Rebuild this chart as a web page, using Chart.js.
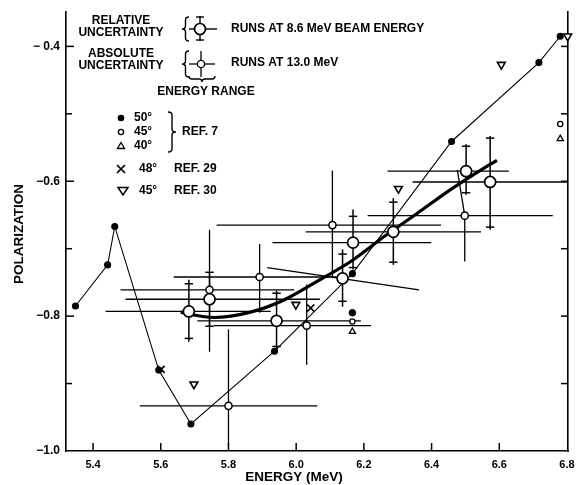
<!DOCTYPE html>
<html><head><meta charset="utf-8">
<script src="https://cdn.jsdelivr.net/npm/chart.js@4/dist/chart.umd.min.js"></script>
<style>html,body{margin:0;padding:0;background:#fff;}#wrap{width:577px;height:485px;}</style>
</head><body><div id="wrap"><canvas id="c" width="577" height="485"></canvas></div>
<script>
// ---- axis ticks ----
const X_TICKS = [5.4, 5.6, 5.8, 6.0, 6.2, 6.4, 6.6, 6.8];
const X_TICK_LABELS = ['5.4', '5.6', '5.8', '6.0', '6.2', '6.4', '6.6', '6.8'];
const Y_TICKS = [-1.0, -0.8, -0.6, -0.4];
const Y_TICK_LABELS = ['\u22121.0', '\u22120.8', '\u22120.6', '\u2212 0.4'];
const Y_MINOR = [-0.9, -0.7, -0.5];

// ---- runs at 8.6 MeV beam energy (large circles) ----
const BIG_E      = [5.683, 5.744, 5.942, 6.137, 6.168, 6.287, 6.502, 6.573];
const BIG_P      = [-0.793, -0.775, -0.807, -0.744, -0.691, -0.675, -0.585, -0.601];
const BIG_ELO    = [5.437, 5.496, 5.708, 5.914, 5.930, 6.028, 6.270, 6.344];
const BIG_EHI    = [5.925, 6.070, 6.191, 6.363, 6.399, 6.546, 6.628, 6.800];
const BIG_PLEFT  = [-0.793, -0.775, -0.807, -0.728, -0.691, -0.675, -0.585, -0.601];
const BIG_PRIGHT = [-0.793, -0.775, -0.807, -0.761, -0.691, -0.675, -0.585, -0.601];
const BIG_VLO    = [-0.838, -0.815, -0.850, -0.786, -0.731, -0.724, -0.620, -0.672];
const BIG_VHI    = [-0.746, -0.735, -0.762, -0.701, -0.642, -0.625, -0.545, -0.533];
const BIG_RLO    = [-0.833, -0.815, -0.845, -0.778, -0.728, -0.720, -0.617, -0.668];
const BIG_RHI    = [-0.752, -0.735, -0.766, -0.708, -0.652, -0.631, -0.548, -0.536];

// ---- runs at 13.0 MeV (small circles) ----
const SMALL_E     = [5.744, 5.800, 5.892, 6.031, 6.107, 6.498];
const SMALL_P     = [-0.761, -0.933, -0.742, -0.814, -0.665, -0.651];
const SMALL_ELO   = [5.481, 5.538, 5.638, 5.757, 5.765, 6.211];
const SMALL_EHI   = [5.994, 6.063, 6.120, 6.221, 6.428, 6.758];
const SMALL_VLO   = [-0.853, -0.993, -0.795, -0.872, -0.741, -0.719];
const SMALL_VHI   = [-0.672, -0.820, -0.693, -0.753, -0.584, -0.583];
const SMALL_VTOPE = [5.744, 5.800, 5.892, 6.031, 6.107, 6.476];

// ---- fitted curve (thick) ----
const CURVE_E = [5.659, 5.683, 5.757, 5.865, 5.964, 6.063, 6.161, 6.260, 6.359, 6.457, 6.556, 6.593];
const CURVE_P = [-0.794, -0.797, -0.802, -0.794, -0.776, -0.748, -0.719, -0.682, -0.647, -0.612, -0.580, -0.569];

// ---- connected filled points (thin line) ----
const LINE_E = [5.348, 5.443, 5.464, 5.594, 5.689, 5.936, 6.166, 6.459, 6.717, 6.780];
const LINE_P = [-0.785, -0.724, -0.667, -0.880, -0.960, -0.852, -0.737, -0.541, -0.424, -0.385];

// ---- REF. 7 isolated points ----
const R7_50_E = [6.166];          const R7_50_P = [-0.795];
const R7_45_E = [6.166, 6.780];   const R7_45_P = [-0.808, -0.515];
const R7_40_E = [6.166, 6.780];   const R7_40_P = [-0.823, -0.537];
// ---- REF. 29 (48 deg) ----
const R29_E = [5.601, 6.043];     const R29_P = [-0.879, -0.788];
// ---- REF. 30 (45 deg) ----
const R30_E = [5.698, 5.999, 6.302, 6.606, 6.802];
const R30_P = [-0.901, -0.783, -0.611, -0.427, -0.385];

const pts = (E, P) => E.map((e, i) => ({x: e, y: P[i]}));
const K = '#000';
const datasets = [];

datasets.push({data: pts(BIG_E, BIG_P), pointStyle: 'circle', pointRadius: 5.5, pointBackgroundColor: '#fff', pointBorderColor: K, pointBorderWidth: 1.7, order: 0, clip: false});
datasets.push({data: pts(SMALL_E, SMALL_P), pointStyle: 'circle', pointRadius: 3.6, pointBackgroundColor: '#fff', pointBorderColor: K, pointBorderWidth: 1.5, order: 0, clip: false});
datasets.push({data: pts(R7_45_E, R7_45_P), pointStyle: 'circle', pointRadius: 2.6, pointBackgroundColor: '#fff', pointBorderColor: K, pointBorderWidth: 1.3, order: 1, clip: false});
datasets.push({data: pts(R7_50_E, R7_50_P), pointStyle: 'circle', pointRadius: 3.3, pointBackgroundColor: K, pointBorderColor: K, pointBorderWidth: 1, order: 1, clip: false});
datasets.push({data: pts(R7_40_E, R7_40_P), pointStyle: 'triangle', pointRadius: 3.6, pointBackgroundColor: '#fff', pointBorderColor: K, pointBorderWidth: 1.3, order: 1, clip: false});
datasets.push({data: pts(R29_E, R29_P), pointStyle: 'crossRot', pointRadius: 5, pointBorderColor: K, pointBorderWidth: 1.7, order: 1, clip: false});
datasets.push({data: pts(R30_E, R30_P), pointStyle: 'triangle', pointRotation: 180, pointRadius: 4.5, pointBackgroundColor: '#fff', pointBorderColor: K, pointBorderWidth: 1.6, order: 1, clip: false});

const crossPts = [];
BIG_E.forEach((e, i) => { crossPts.push({x: e, y: BIG_RLO[i]}); crossPts.push({x: e, y: BIG_RHI[i]}); });
datasets.push({data: crossPts, pointStyle: 'line', pointRadius: 4.2, pointBorderColor: K, pointBorderWidth: 1.5, order: 2, clip: false});

BIG_E.forEach((e, i) => {
  datasets.push({data: [{x: BIG_ELO[i], y: BIG_PLEFT[i]}, {x: BIG_EHI[i], y: BIG_PRIGHT[i]}], showLine: true, borderColor: K, borderWidth: 1.4, pointRadius: 0, order: 5});
  datasets.push({data: [{x: e, y: BIG_VLO[i]}, {x: e, y: BIG_VHI[i]}], showLine: true, borderColor: K, borderWidth: 1.5, pointRadius: 0, order: 5});
});
SMALL_E.forEach((e, i) => {
  datasets.push({data: [{x: SMALL_ELO[i], y: SMALL_P[i]}, {x: SMALL_EHI[i], y: SMALL_P[i]}], showLine: true, borderColor: K, borderWidth: 1.3, pointRadius: 0, order: 5});
  datasets.push({data: [{x: SMALL_VTOPE[i], y: SMALL_VHI[i]}, {x: e, y: SMALL_P[i]}, {x: e, y: SMALL_VLO[i]}], showLine: true, borderColor: K, borderWidth: 1.3, pointRadius: 0, order: 5});
});

datasets.push({data: pts(CURVE_E, CURVE_P), showLine: true, borderColor: K, borderWidth: 3.2, cubicInterpolationMode: 'monotone', pointRadius: 0, order: 4});
datasets.push({data: pts(LINE_E, LINE_P), showLine: true, borderColor: K, borderWidth: 1.1, pointStyle: 'circle', pointRadius: 3, pointBackgroundColor: K, pointBorderColor: K, order: 6, clip: false});

function seg(ctx, x1, y1, x2, y2) { ctx.beginPath(); ctx.moveTo(x1, y1); ctx.lineTo(x2, y2); ctx.stroke(); }
function braceLeft(ctx, x, y1, y2, w) {
  const ym = (y1 + y2) / 2, m = x + w / 2;
  ctx.beginPath(); ctx.moveTo(x + w, y1);
  ctx.quadraticCurveTo(m, y1, m, y1 + 3); ctx.lineTo(m, ym - 3);
  ctx.quadraticCurveTo(m, ym, x, ym);
  ctx.quadraticCurveTo(m, ym, m, ym + 3); ctx.lineTo(m, y2 - 3);
  ctx.quadraticCurveTo(m, y2, x + w, y2); ctx.stroke();
}
function braceRight(ctx, x, y1, y2, w) {
  const ym = (y1 + y2) / 2, m = x + w / 2;
  ctx.beginPath(); ctx.moveTo(x, y1);
  ctx.quadraticCurveTo(m, y1, m, y1 + 3); ctx.lineTo(m, ym - 3);
  ctx.quadraticCurveTo(m, ym, x + w, ym);
  ctx.quadraticCurveTo(m, ym, m, ym + 3); ctx.lineTo(m, y2 - 3);
  ctx.quadraticCurveTo(m, y2, x, y2); ctx.stroke();
}
function braceDown(ctx, x1, x2, y, h) {
  const xm = (x1 + x2) / 2, m = y + h / 2;
  ctx.beginPath(); ctx.moveTo(x1, y);
  ctx.quadraticCurveTo(x1, m, x1 + 3, m); ctx.lineTo(xm - 3, m);
  ctx.quadraticCurveTo(xm, m, xm, y + h);
  ctx.quadraticCurveTo(xm, m, xm + 3, m); ctx.lineTo(x2 - 3, m);
  ctx.quadraticCurveTo(x2, m, x2, y); ctx.stroke();
}

const decor = {
  id: 'decor',
  afterDraw(chart) {
    const ctx = chart.ctx, xs = chart.scales.x, ys = chart.scales.y, a = chart.chartArea;
    ctx.save();
    ctx.strokeStyle = K; ctx.fillStyle = K; ctx.lineWidth = 1.5;
    X_TICKS.forEach(v => { if (v > 6.79) return; const px = xs.getPixelForValue(v); seg(ctx, px, a.bottom, px, a.bottom - 8); });
    Y_TICKS.forEach(v => { if (v < -0.99) return; const py = ys.getPixelForValue(v); seg(ctx, a.left, py, a.left + 8, py); });
    Y_MINOR.forEach(v => { const py = ys.getPixelForValue(v); seg(ctx, a.left, py, a.left + 6, py); });
    Y_TICKS.concat(Y_MINOR).forEach(v => { if (v < -0.99) return; const py = ys.getPixelForValue(v); seg(ctx, a.right, py, a.right - 7, py); });

    ctx.textBaseline = 'middle'; ctx.textAlign = 'center';
    ctx.font = 'bold 13.5px "Liberation Sans"';
    ctx.save(); ctx.translate(19, 234); ctx.rotate(-Math.PI / 2); ctx.fillText('POLARIZATION', 0, 0); ctx.restore();
    ctx.fillText('ENERGY (MeV)', 294, 477);

    ctx.font = 'bold 12px "Liberation Sans"';
    ctx.fillText('RELATIVE', 121, 21);
    ctx.fillText('UNCERTAINTY', 121, 33);
    ctx.fillText('ABSOLUTE', 121, 54);
    ctx.fillText('UNCERTAINTY', 121, 66);
    ctx.fillText('ENERGY RANGE', 206, 92);
    ctx.textAlign = 'left';
    ctx.fillText('RUNS AT 8.6 MeV BEAM ENERGY', 231, 29);
    ctx.fillText('RUNS AT 13.0 MeV', 231, 63);
    ctx.fillText('50\u00b0', 134, 118);
    ctx.fillText('45\u00b0', 134, 132);
    ctx.fillText('40\u00b0', 134, 146);
    ctx.fillText('REF. 7', 182, 132);
    ctx.fillText('48\u00b0', 139, 169);
    ctx.fillText('REF. 29', 174, 169);
    ctx.fillText('45\u00b0', 139, 191);
    ctx.fillText('REF. 30', 174, 191);

    ctx.lineWidth = 1.4;
    braceLeft(ctx, 182, 17, 41, 7);
    braceLeft(ctx, 182, 51, 77, 7);
    braceDown(ctx, 189, 215, 76, 6);
    braceRight(ctx, 168, 112, 152, 8);
    seg(ctx, 189, 29, 217, 29);
    seg(ctx, 200, 16, 200, 41);
    seg(ctx, 196, 17, 204, 17); seg(ctx, 196, 40, 204, 40);
    ctx.beginPath(); ctx.arc(200, 29, 5.5, 0, Math.PI * 2); ctx.fillStyle = '#fff'; ctx.fill(); ctx.lineWidth = 1.7; ctx.stroke();
    ctx.lineWidth = 1.3;
    seg(ctx, 189, 64, 215, 64);
    seg(ctx, 201, 51, 201, 77);
    ctx.beginPath(); ctx.arc(201, 64, 3.6, 0, Math.PI * 2); ctx.fill(); ctx.stroke();
    ctx.fillStyle = K;
    ctx.beginPath(); ctx.arc(121, 118, 3.3, 0, Math.PI * 2); ctx.fill();
    ctx.fillStyle = '#fff';
    ctx.beginPath(); ctx.arc(121, 132, 2.6, 0, Math.PI * 2); ctx.fill(); ctx.stroke();
    ctx.beginPath(); ctx.moveTo(121, 142.5); ctx.lineTo(124.6, 148.5); ctx.lineTo(117.4, 148.5); ctx.closePath(); ctx.fill(); ctx.stroke();
    ctx.lineWidth = 1.7;
    seg(ctx, 117, 165, 125, 173); seg(ctx, 125, 165, 117, 173);
    ctx.lineWidth = 1.5;
    ctx.beginPath(); ctx.moveTo(118, 187.5); ctx.lineTo(128, 187.5); ctx.lineTo(123, 195); ctx.closePath(); ctx.fill(); ctx.stroke();
    ctx.restore();
  }
};

new Chart(document.getElementById('c'), {
  type: 'scatter',
  data: {datasets},
  options: {
    responsive: false, animation: false, devicePixelRatio: 1,
    layout: {padding: {top: 12, left: 0, right: 0, bottom: 0}},
    plugins: {legend: {display: false}, tooltip: {enabled: false}},
    scales: {
      x: {
        type: 'linear', position: 'bottom', min: 5.32, max: 6.803,
        afterBuildTicks: s => { s.ticks = X_TICKS.map(v => ({value: v})); },
        afterFit: s => { s.height = 34; s.paddingLeft = 0; s.paddingRight = 0; },
        ticks: {autoSkip: false, maxRotation: 0, minRotation: 0, padding: 7, color: K,
                font: {family: 'Liberation Sans', size: 11, weight: 'bold'}, callback: (v, i) => X_TICK_LABELS[i]},
        grid: {drawOnChartArea: false, drawTicks: false},
        border: {display: true, color: K, width: 1.6}
      },
      y: {
        type: 'linear', position: 'left', min: -1.0, max: -0.349,
        afterBuildTicks: s => { s.ticks = Y_TICKS.map(v => ({value: v})); },
        afterFit: s => { s.width = 66; s.paddingTop = 0; s.paddingBottom = 0; },
        ticks: {autoSkip: false, padding: 6, color: K,
                font: {family: 'Liberation Sans', size: 12, weight: 'bold'}, callback: (v, i) => Y_TICK_LABELS[i]},
        grid: {drawOnChartArea: false, drawTicks: false},
        border: {display: true, color: K, width: 1.6}
      },
      y2: {
        type: 'linear', position: 'right', min: -1.0, max: -0.349,
        afterFit: s => { s.width = 9; s.paddingTop = 0; s.paddingBottom = 0; },
        ticks: {display: false},
        grid: {drawOnChartArea: false, drawTicks: false},
        border: {display: true, color: K, width: 1.6}
      }
    }
  },
  plugins: [decor]
});
</script>
</body></html>
